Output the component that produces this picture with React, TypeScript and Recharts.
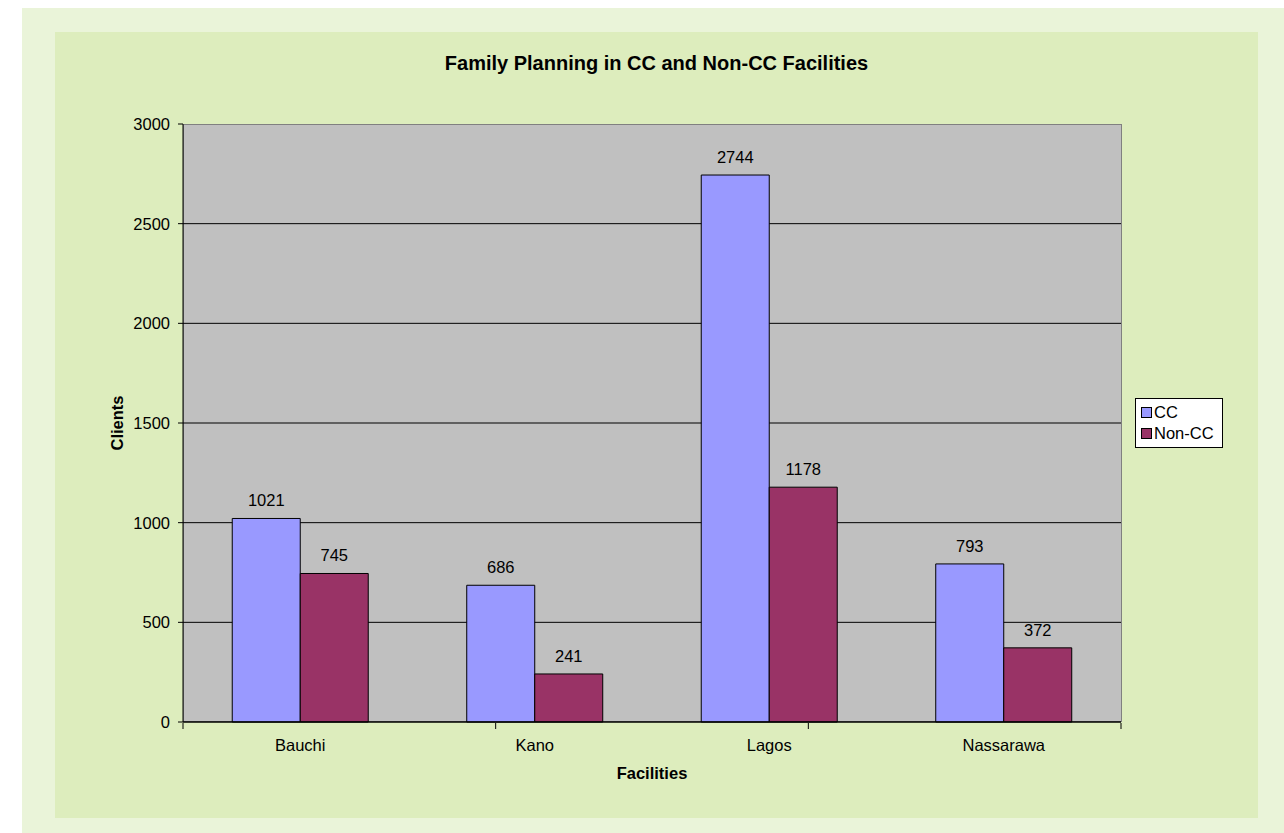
import { BarChart, Bar, XAxis, YAxis, CartesianGrid, LabelList } from 'recharts';

const facilities = ['Bauchi', 'Kano', 'Lagos', 'Nassarawa'];
const ccClients = [1021, 686, 2744, 793];
const nonCcClients = [745, 241, 1178, 372];
const yTicks = [0, 500, 1000, 1500, 2000, 2500, 3000];
const gridValues = [500, 1000, 1500, 2000, 2500];
const edgeTicks = [0, 1, 2, 3, 4];

const FONT = '"Liberation Sans", Arial, sans-serif';
const CC_COLOR = '#9999FF';
const NON_CC_COLOR = '#993366';

// plot area in page pixels
const PLOT = { left: 183, top: 124, right: 1121, bottom: 722 };
const W = 1284;
const H = 833;

const data = facilities.map((name, i) => ({
  name,
  cc: ccClients[i],
  nonCc: nonCcClients[i],
}));

function LegendBox() {
  const items = [
    { label: 'CC', color: CC_COLOR },
    { label: 'Non-CC', color: NON_CC_COLOR },
  ];
  return (
    <div
      style={{
        position: 'absolute',
        left: 1135,
        top: 398,
        width: 88,
        height: 50,
        boxSizing: 'border-box',
        background: '#fff',
        border: '1px solid #000',
        padding: '3px 0 0 5px',
        fontFamily: FONT,
        fontSize: 16.5,
        color: '#000',
      }}
    >
      {items.map((it) => (
        <div key={it.label} style={{ display: 'flex', alignItems: 'center', height: 21 }}>
          <span
            style={{
              display: 'inline-block',
              width: 9,
              height: 9,
              background: it.color,
              border: '1px solid #000',
              marginRight: 2,
            }}
          />
          {it.label}
        </div>
      ))}
    </div>
  );
}

// tick marks only, no text, for the category boundaries
const NoTickText = () => <g />;

export default function App() {
  return (
    <div style={{ position: 'absolute', left: 0, top: 0, width: W, height: H, background: '#fff' }}>
      <div style={{ position: 'absolute', left: 22, top: 8, width: W - 22, height: H - 8, background: '#EAF4D9' }} />
      <div style={{ position: 'absolute', left: 55, top: 32, width: 1203, height: 786, background: '#DDEDBD' }} />
      <div
        style={{
          position: 'absolute',
          left: PLOT.left,
          top: PLOT.top,
          width: PLOT.right - PLOT.left + 1,
          height: PLOT.bottom - PLOT.top,
          boxSizing: 'border-box',
          background: '#C0C0C0',
          border: '1px solid #808080',
        }}
      />
      <div
        style={{
          position: 'absolute',
          left: 55,
          width: 1203,
          top: 52,
          textAlign: 'center',
          fontFamily: FONT,
          fontWeight: 'bold',
          fontSize: 20,
          color: '#000',
        }}
      >
        Family Planning in CC and Non-CC Facilities
      </div>
      <div style={{ position: 'absolute', left: 0, top: 0 }}>
        <BarChart
          width={W}
          height={H}
          data={data}
          margin={{ top: PLOT.top, right: W - PLOT.right, bottom: H - PLOT.bottom - 2, left: PLOT.left - 60 }}
          barCategoryGap="21%"
          barGap={0}
          style={{ fontFamily: FONT }}
        >
          <CartesianGrid vertical={false} horizontalValues={gridValues} stroke="#000" strokeOpacity={1} />
          <XAxis
            dataKey="name"
            height={1}
            tickSize={0}
            tickMargin={17}
            tickLine={false}
            axisLine={{ stroke: '#000', strokeWidth: 1.5 }}
            tick={{ fill: '#000', fontSize: 16.5 }}
            label={{
              value: 'Facilities',
              position: 'bottom',
              offset: 44,
              style: { fontWeight: 'bold', fontSize: 16.5, fill: '#000' },
            }}
          />
          <XAxis
            xAxisId="edges"
            type="number"
            domain={[0, 4]}
            ticks={edgeTicks}
            interval={0}
            allowDataOverflow
            tick={NoTickText}
            axisLine={false}
            tickLine={{ stroke: '#000' }}
            tickSize={6}
            height={1}
          />
          <YAxis
            width={60}
            domain={[0, 3000]}
            ticks={yTicks}
            interval={0}
            tickSize={5}
            tickMargin={8}
            axisLine={{ stroke: '#000' }}
            tickLine={{ stroke: '#000' }}
            tick={{ fill: '#000', fontSize: 16.5 }}
            label={{
              value: 'Clients',
              angle: -90,
              position: 'left',
              offset: 6,
              style: { fontWeight: 'bold', fontSize: 16.5, fill: '#000', textAnchor: 'middle' },
            }}
          />
          <Bar dataKey="cc" name="CC" fill={CC_COLOR} stroke="#000" strokeWidth={1} isAnimationActive={false}>
            <LabelList dataKey="cc" position="top" offset={12} fill="#000" fontSize={16.5} />
          </Bar>
          <Bar dataKey="nonCc" name="Non-CC" fill={NON_CC_COLOR} stroke="#000" strokeWidth={1} isAnimationActive={false}>
            <LabelList dataKey="nonCc" position="top" offset={12} fill="#000" fontSize={16.5} />
          </Bar>
        </BarChart>
      </div>
      <LegendBox />
    </div>
  );
}
